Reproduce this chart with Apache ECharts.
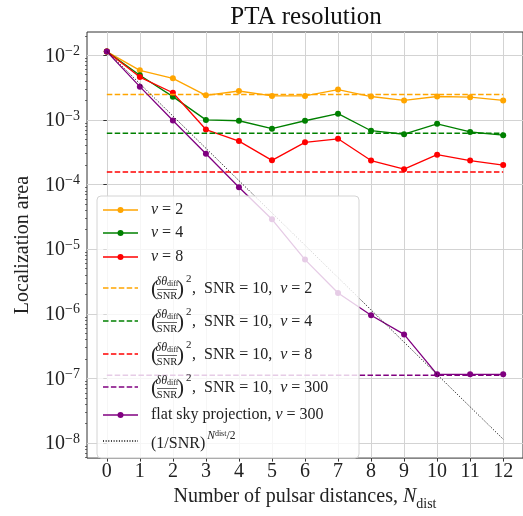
<!DOCTYPE html>
<html>
<head>
<meta charset="utf-8">
<script src="https://cdn.jsdelivr.net/npm/echarts@6/dist/echarts.min.js"></script>
<style>
  html, body { margin: 0; padding: 0; background: #fff; }
  #chart { width: 523px; height: 516px; }
</style>
</head>
<body>
<div id="chart"></div>
<script>
// values
const nDist = [0, 1, 2, 3, 4, 5, 6, 7, 8, 9, 10, 11, 12]
const areaNu2 = [1.14e-2, 5.85e-3, 4.4e-3, 2.4e-3, 2.8e-3, 2.35e-3, 2.35e-3, 2.95e-3, 2.3e-3, 2.0e-3, 2.3e-3, 2.25e-3, 2.0e-3]
const areaNu4 = [1.14e-2, 4.9e-3, 2.29e-3, 1.0e-3, 9.7e-4, 7.3e-4, 9.7e-4, 1.25e-3, 6.8e-4, 6.0e-4, 8.7e-4, 6.5e-4, 5.8e-4]
const areaNu8 = [1.14e-2, 4.6e-3, 2.63e-3, 7.1e-4, 4.7e-4, 2.37e-4, 4.5e-4, 5.1e-4, 2.35e-4, 1.73e-4, 2.9e-4, 2.35e-4, 2.0e-4]
const areaFlat300 = [1.14e-2, 3.27e-3, 9.8e-4, 3.0e-4, 9.1e-5, 2.9e-5, 6.9e-6, 2.1e-6, 9.5e-7, 4.8e-7, 1.16e-7, 1.16e-7, 1.16e-7]
const floorNu = ['2', '4', '8', '300']
const floorArea = [2.48e-3, 6.2e-4, 1.57e-4, 1.12e-7]
const snrLineN = [0, 12]
const snrLineArea = [1.15e-2, 1.15e-8]
const xTicks = [0, 1, 2, 3, 4, 5, 6, 7, 8, 9, 10, 11, 12]
const yTicks = [1e-8, 1e-7, 1e-6, 1e-5, 1e-4, 1e-3, 1e-2]

const serif = '"Liberation Serif", "DejaVu Serif", serif'
const colors = ['#FFA500', '#008000', '#FF0000', '#800080']
const yMin = 5.86e-9
const yMax = 2.29e-2

// log minor ticks 2..9 x 10^k
let yMinor = []
for (let k = -9; k <= -2; k++) {
  for (let m = 2; m <= 9; m++) {
    let v = m * Math.pow(10, k)
    if (v > yMin && v < yMax) yMinor.push(v)
  }
}

function pairs(xs, ys) {
  return xs.map((x, i) => [x, ys[i]])
}

let series = []
const solidSets = [areaNu2, areaNu4, areaNu8]
solidSets.forEach((arr, i) => {
  series.push({
    type: 'line', data: pairs(nDist, arr),
    symbol: 'circle', symbolSize: 6,
    itemStyle: { color: colors[i] },
    lineStyle: { color: colors[i], width: 1.3 },
    z: 3 + i
  })
})
floorArea.forEach((v, i) => {
  series.push({
    type: 'line', data: [[0, v], [12, v]], symbol: 'none',
    lineStyle: { color: colors[i], width: 1.5, type: [5.5, 2.4] },
    z: 6 + i
  })
})
series.push({
  type: 'line', data: pairs(nDist, areaFlat300),
  symbol: 'circle', symbolSize: 6,
  itemStyle: { color: colors[3] },
  lineStyle: { color: colors[3], width: 1.3 },
  z: 11
})
series.push({
  type: 'line', data: pairs(snrLineN, snrLineArea), symbol: 'none',
  lineStyle: { color: '#000', width: 1, type: [1, 1.65] },
  z: 12
})

// legend drawn as graphic so the fractions can be set
const legendW = 262, legendH = 262
let lg = [{
  type: 'rect', shape: { x: 0, y: 0, width: legendW, height: legendH, r: 4 },
  style: { fill: 'rgba(255,255,255,0.8)', stroke: '#d4d4d4', lineWidth: 1 }
}]
const rowY = [14, 37, 61, 92, 125, 158, 191, 219, 245]
const txtRich = {
  r: { fontFamily: serif, fontSize: 16, fill: '#222' },
  i: { fontFamily: serif, fontSize: 16, fontStyle: 'italic', fill: '#222' }
}
function sample(cy, color, dash, marker) {
  lg.push({ type: 'line', shape: { x1: 6, y1: cy, x2: 41, y2: cy },
    style: { stroke: color, lineWidth: 1.5, lineDash: dash || null } })
  if (marker) lg.push({ type: 'circle', shape: { cx: 23.5, cy: cy, r: 3 }, style: { fill: color } })
}
function label(x, cy, text, rich) {
  lg.push({ type: 'text', x: x, y: cy,
    style: { text: text, rich: rich || txtRich, verticalAlign: 'middle', align: 'left' } })
}
for (let i = 0; i < 3; i++) {
  sample(rowY[i], colors[i], null, true)
  label(54, rowY[i], '{i|ν}{r| = ' + ['2', '4', '8'][i] + '}')
}
floorNu.forEach((nu, i) => {
  let cy = rowY[3 + i]
  sample(cy, colors[i], [5.5, 2.4], false)
  lg.push({ type: 'text', x: 54, y: cy + 1, style: { text: '(', font: '21px ' + serif, fill: '#222', verticalAlign: 'middle' } })
  lg.push({ type: 'text', x: 70, y: cy - 6, style: {
    text: '{i|δθ}{s|diff}', align: 'center', verticalAlign: 'middle',
    rich: { i: { fontFamily: serif, fontSize: 12, fontStyle: 'italic', fill: '#222' },
            s: { fontFamily: serif, fontSize: 8, fill: '#222', verticalAlign: 'bottom' } } } })
  lg.push({ type: 'line', shape: { x1: 60, y1: cy + 1.5, x2: 80, y2: cy + 1.5 }, style: { stroke: '#222', lineWidth: 0.7 } })
  lg.push({ type: 'text', x: 70, y: cy + 8, style: { text: 'SNR', font: '10.5px ' + serif, fill: '#222', align: 'center', verticalAlign: 'middle' } })
  lg.push({ type: 'text', x: 80, y: cy + 1, style: { text: ')', font: '21px ' + serif, fill: '#222', verticalAlign: 'middle' } })
  lg.push({ type: 'text', x: 89, y: cy - 9, style: { text: '2', font: '11px ' + serif, fill: '#222', verticalAlign: 'middle' } })
  label(95, cy + 1, '{r|,  SNR = 10,  }{i|ν}{r| = ' + nu + '}')
})
sample(rowY[7], colors[3], null, true)
label(54, rowY[7], '{r|flat sky projection, }{i|ν}{r| = 300}')
sample(rowY[8], '#000', [1, 1.65], false)
label(54, rowY[8], '{r|(1/SNR)}{n|N}{d|dist}{t|/2}', {
  r: { fontFamily: serif, fontSize: 16, fill: '#222', lineHeight: 22, verticalAlign: 'bottom' },
  n: { fontFamily: serif, fontSize: 11.5, fontStyle: 'italic', fill: '#222', lineHeight: 12, verticalAlign: 'top', padding: [0, 0, 0, 2] },
  d: { fontFamily: serif, fontSize: 8, fill: '#222', lineHeight: 17, verticalAlign: 'top' },
  t: { fontFamily: serif, fontSize: 11.5, fill: '#222', lineHeight: 12, verticalAlign: 'top' }
})
lg.forEach(el => { el.z = 100 })

const chart = echarts.init(document.getElementById('chart'))
chart.setOption({
  animation: false,
  backgroundColor: '#fff',
  grid: { left: 87, top: 32, width: 438, height: 435, show: true, borderColor: '#333', borderWidth: 1 },
  xAxis: {
    type: 'value', min: -0.6, max: 12.6,
    axisLine: { show: false },
    axisTick: { show: true, length: 3.5, customValues: xTicks, lineStyle: { color: '#333' } },
    axisLabel: { customValues: xTicks, margin: 4, fontFamily: serif, fontSize: 20, color: '#222' },
    splitLine: { show: true, lineStyle: { color: '#d3d3d3', width: 1 } },
    name: '{r|Number of pulsar distances, }{i|N}{s|dist}',
    nameLocation: 'middle', nameGap: 24,
    nameTextStyle: {
      rich: {
        r: { fontFamily: serif, fontSize: 20, color: '#222', lineHeight: 24, verticalAlign: 'top' },
        i: { fontFamily: serif, fontSize: 20, fontStyle: 'italic', color: '#222', lineHeight: 24, verticalAlign: 'top' },
        s: { fontFamily: serif, fontSize: 14, color: '#222', lineHeight: 14, verticalAlign: 'bottom' }
      }
    }
  },
  yAxis: [{
    type: 'log', logBase: 10, min: yMin, max: yMax,
    axisLine: { show: false },
    axisTick: { show: true, length: 3.5, customValues: yTicks, lineStyle: { color: '#333' } },
    axisLabel: {
      customValues: yTicks, margin: 7,
      formatter: v => '{b|10}{s|−' + Math.round(-Math.log10(v)) + '}',
      rich: {
        b: { fontFamily: serif, fontSize: 20, color: '#222', lineHeight: 22, verticalAlign: 'bottom' },
        s: { fontFamily: serif, fontSize: 14, color: '#222', lineHeight: 14, verticalAlign: 'top' }
      }
    },
    splitLine: { show: true, lineStyle: { color: '#d3d3d3', width: 1 } },
    name: 'Localization area', nameLocation: 'middle', nameGap: 54,
    nameTextStyle: { fontFamily: serif, fontSize: 20, color: '#222' }
  }, {
    type: 'log', logBase: 10, min: yMin, max: yMax, position: 'left',
    axisLine: { show: false },
    axisTick: { show: true, length: 2, customValues: yMinor, lineStyle: { color: '#333', width: 0.7 } },
    axisLabel: { show: false },
    splitLine: { show: false }
  }],
  graphic: [
    { type: 'text', x: 306, y: 17, z: 100,
      style: { text: 'PTA resolution', font: '25px ' + serif, fill: '#111', align: 'center', verticalAlign: 'middle' } },
    { type: 'group', x: 97, y: 196, z: 100, children: lg }
  ],
  series: series
})
</script>
</body>
</html>
